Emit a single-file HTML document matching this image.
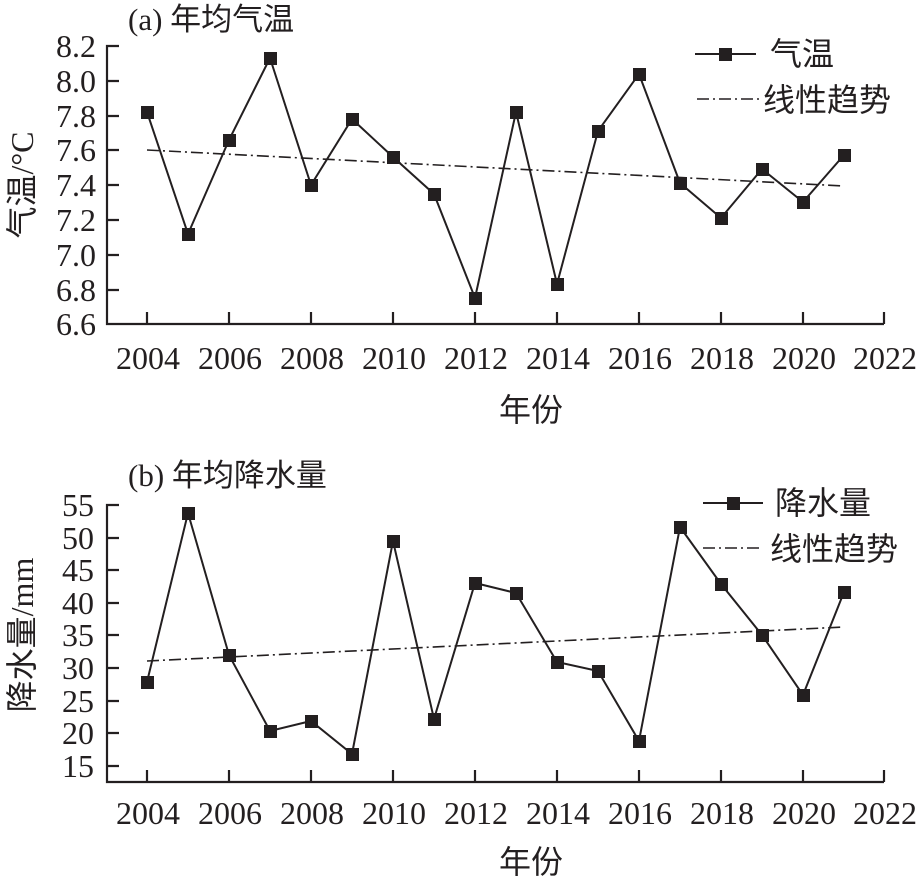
<!DOCTYPE html>
<html><head><meta charset="utf-8"><style>
html,body{margin:0;padding:0;background:#fff;}
svg{display:block;}
text{font-family:"Liberation Serif","Noto Serif CJK SC",serif;fill:#231f20;}
.cj{font-family:"Liberation Serif","Noto Sans CJK SC",sans-serif;}
</style></head><body>
<svg width="919" height="884" viewBox="0 0 919 884" xmlns="http://www.w3.org/2000/svg">
<g stroke="#231f20" stroke-width="2.2" fill="none">
<path d="M119,46 H107 V324 H884"/>
<path d="M107,81 H119 M107,116 H119 M107,150 H119 M107,185 H119 M107,220 H119 M107,255 H119 M107,290 H119"/>
<path d="M147,324 V312 M229,324 V312 M311,324 V312 M393,324 V312 M475,324 V312 M557,324 V312 M639,324 V312 M721,324 V312 M803,324 V312 M884,324 V312"/>
<path d="M119,505 H107 V782 H884"/>
<path d="M107,538 H119 M107,570 H119 M107,603 H119 M107,635 H119 M107,668 H119 M107,701 H119 M107,733 H119 M107,766 H119"/>
<path d="M147,782 V770 M229,782 V770 M311,782 V770 M393,782 V770 M475,782 V770 M557,782 V770 M639,782 V770 M721,782 V770 M803,782 V770 M884,782 V770"/>
</g>
<g stroke="#231f20" stroke-width="1.6" fill="none" stroke-dasharray="12,4,2,4">
<path d="M147,150 L844,186"/>
<path d="M147,661 L844,627"/>
<path d="M697,99 H760"/>
<path d="M703,548 H760"/>
</g>
<g stroke="#231f20" stroke-width="2" fill="none">
<polyline points="147,112 188,234 229,140 270,58 311,185 352,119 393,157 434,194 475,298 516,112 557,284 598,131 639,74 680,183 721,218 762,169 803,202 844,155"/>
<polyline points="147,682 188,513 229,655 270,731 311,721 352,754 393,541 434,719 475,583 516,593 557,662 598,671 639,741 680,527 721,584 762,635 803,695 844,592"/>
<path d="M695,54 H756"/>
<path d="M703,503 H763"/>
</g>
<g fill="#231f20">
<rect x="141" y="106" width="13" height="13"/><rect x="182" y="228" width="13" height="13"/><rect x="223" y="134" width="13" height="13"/><rect x="264" y="52" width="13" height="13"/><rect x="305" y="179" width="13" height="13"/><rect x="346" y="113" width="13" height="13"/><rect x="387" y="151" width="13" height="13"/><rect x="428" y="188" width="13" height="13"/><rect x="469" y="292" width="13" height="13"/><rect x="510" y="106" width="13" height="13"/><rect x="551" y="278" width="13" height="13"/><rect x="592" y="125" width="13" height="13"/><rect x="633" y="68" width="13" height="13"/><rect x="674" y="177" width="13" height="13"/><rect x="715" y="212" width="13" height="13"/><rect x="756" y="163" width="13" height="13"/><rect x="797" y="196" width="13" height="13"/><rect x="838" y="149" width="13" height="13"/>
<rect x="141" y="676" width="13" height="13"/><rect x="182" y="507" width="13" height="13"/><rect x="223" y="649" width="13" height="13"/><rect x="264" y="725" width="13" height="13"/><rect x="305" y="715" width="13" height="13"/><rect x="346" y="748" width="13" height="13"/><rect x="387" y="535" width="13" height="13"/><rect x="428" y="713" width="13" height="13"/><rect x="469" y="577" width="13" height="13"/><rect x="510" y="587" width="13" height="13"/><rect x="551" y="656" width="13" height="13"/><rect x="592" y="665" width="13" height="13"/><rect x="633" y="735" width="13" height="13"/><rect x="674" y="521" width="13" height="13"/><rect x="715" y="578" width="13" height="13"/><rect x="756" y="629" width="13" height="13"/><rect x="797" y="689" width="13" height="13"/><rect x="838" y="586" width="13" height="13"/>
<rect x="719" y="48" width="13" height="13"/>
<rect x="727" y="497" width="13" height="13"/>
</g>
<text x="128" y="30" font-size="31" class="cj">(a) 年均气温</text>
<g font-size="32" text-anchor="end">
<text x="96" y="57">8.2</text><text x="96" y="92">8.0</text><text x="96" y="127">7.8</text><text x="96" y="161">7.6</text><text x="96" y="196">7.4</text><text x="96" y="231">7.2</text><text x="96" y="266">7.0</text><text x="96" y="301">6.8</text><text x="96" y="335">6.6</text>
</g>
<g font-size="32" text-anchor="middle">
<text x="148" y="369">2004</text><text x="230" y="369">2006</text><text x="312" y="369">2008</text><text x="394" y="369">2010</text><text x="476" y="369">2012</text><text x="558" y="369">2014</text><text x="640" y="369">2016</text><text x="722" y="369">2018</text><text x="804" y="369">2020</text><text x="885" y="369">2022</text>
<text x="531" y="421" class="cj" font-size="32">年份</text>
</g>
<text transform="translate(33,185) rotate(-90)" font-size="32" text-anchor="middle" class="cj">气温/°C</text>
<text x="770" y="65" font-size="32" class="cj">气温</text>
<text x="763" y="111" font-size="32" class="cj">线性趋势</text>
<text x="128" y="486" font-size="31" class="cj">(b) 年均降水量</text>
<g font-size="32" text-anchor="end">
<text x="94" y="516">55</text><text x="94" y="549">50</text><text x="94" y="581">45</text><text x="94" y="614">40</text><text x="94" y="646">35</text><text x="94" y="679">30</text><text x="94" y="712">25</text><text x="94" y="744">20</text><text x="94" y="777">15</text>
</g>
<g font-size="32" text-anchor="middle">
<text x="148" y="824">2004</text><text x="230" y="824">2006</text><text x="312" y="824">2008</text><text x="394" y="824">2010</text><text x="476" y="824">2012</text><text x="558" y="824">2014</text><text x="640" y="824">2016</text><text x="722" y="824">2018</text><text x="804" y="824">2020</text><text x="885" y="824">2022</text>
<text x="531" y="873" class="cj" font-size="32">年份</text>
</g>
<text transform="translate(33,635) rotate(-90)" font-size="32" text-anchor="middle" class="cj">降水量/mm</text>
<text x="775" y="514" font-size="32" class="cj">降水量</text>
<text x="770" y="560" font-size="32" class="cj">线性趋势</text>
</svg>
</body></html>
